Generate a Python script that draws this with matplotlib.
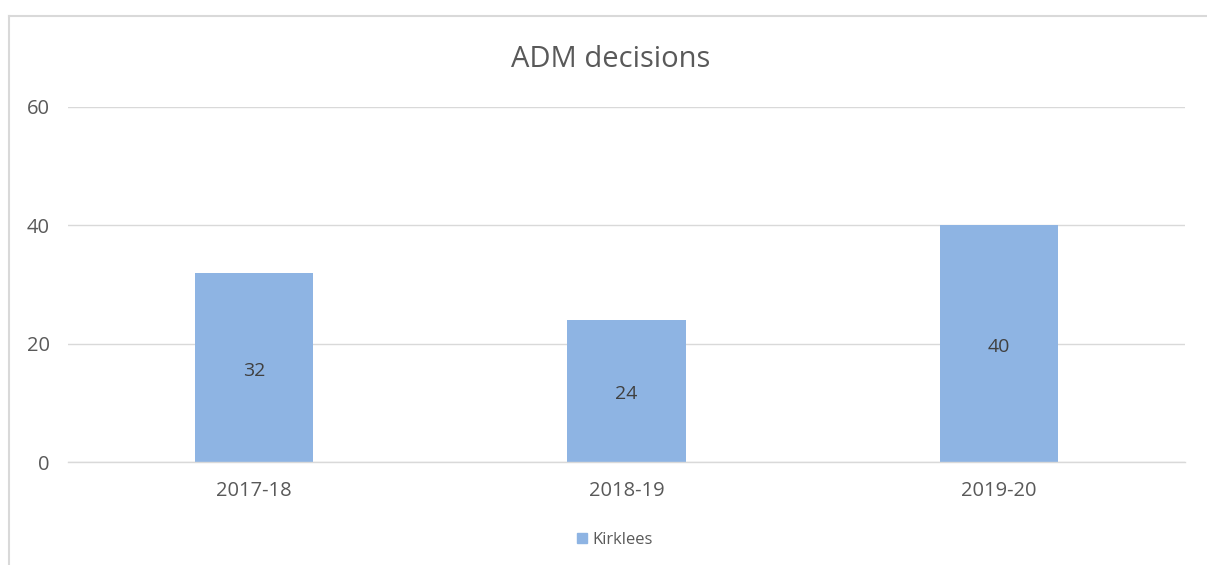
import matplotlib
matplotlib.use("Agg")
import matplotlib.pyplot as plt
from matplotlib.lines import Line2D

categories = ["2017-18", "2018-19", "2019-20"]
values = [32, 24, 40]
series_name = "Kirklees"
title = "ADM decisions"
yticks = [0, 20, 40, 60]

plt.rcParams['font.family'] = ['Open Sans', 'DejaVu Sans']

W, H = 1207, 565
fig = plt.figure(figsize=(W / 100, H / 100), dpi=100)
ax = fig.add_axes([68 / W, (H - 462) / H, (1185 - 68) / W, (462 - 107) / H])

bar_color = "#8EB4E3"
x = list(range(len(categories)))
ax.bar(x, values, width=0.317, color=bar_color, zorder=3)
for xi, v in zip(x, values):
    ax.annotate(str(v), (xi, v / 2), xytext=(0, -2.5), textcoords="offset points",
                ha="center", va="center", fontsize=14, color="#404040", zorder=4)

ax.set_xlim(-0.5, len(categories) - 0.5)
ax.set_ylim(0, 60)
ax.set_yticks(yticks)
ax.set_yticklabels([str(t) for t in yticks], fontsize=14.5, color="#595959")
ax.set_xticks(x)
ax.set_xticklabels(categories, fontsize=14.5, color="#595959")
ax.tick_params(axis="both", length=0)
ax.tick_params(axis="y", pad=13)
ax.tick_params(axis="x", pad=14)
ax.grid(axis="y", color="#D9D9D9", linewidth=1, zorder=0)
for s in ["top", "right", "left"]:
    ax.spines[s].set_visible(False)
ax.spines["bottom"].set_color("#D9D9D9")
ax.spines["bottom"].set_linewidth(1)
ax.spines["bottom"].set_zorder(5)

fig.text(611 / W, 1 - 60 / H, title, ha="center", va="center", fontsize=21, color="#595959")

handle = Line2D([], [], marker="s", linestyle="none", markersize=7.5, color=bar_color)
fig.legend([handle], [series_name], loc="center", bbox_to_anchor=(613 / W, 1 - 540 / H),
           frameon=False, fontsize=12, labelcolor="#595959", handletextpad=0.1,
           handlelength=1.0)

# outer chart border (cropped at right and bottom)
fig.add_artist(Line2D([8.5 / W, 8.5 / W], [0, 1 - 15.5 / H], transform=fig.transFigure,
                      color="#D9D9D9", linewidth=1.5))
fig.add_artist(Line2D([8.5 / W, 1], [1 - 15.5 / H, 1 - 15.5 / H], transform=fig.transFigure,
                      color="#D9D9D9", linewidth=1.5))

fig.savefig("out.png", dpi=100, facecolor="white")
